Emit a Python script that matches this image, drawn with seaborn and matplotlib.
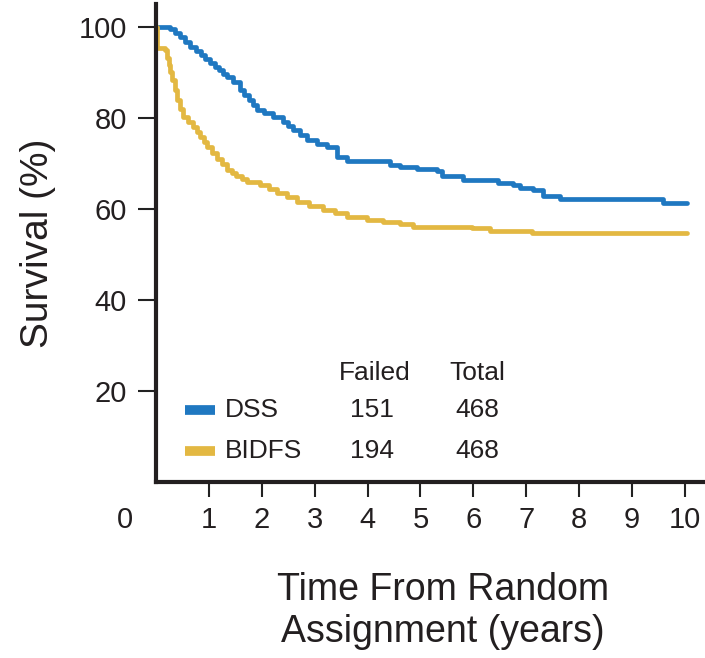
import matplotlib
matplotlib.use("Agg")
import matplotlib.pyplot as plt
import seaborn as sns
import pandas as pd

# ---- data ----
dss_t = [0, 0.26, 0.35, 0.45, 0.55, 0.64, 0.75, 0.85, 0.93, 1.02, 1.12, 1.20, 1.27, 1.34, 1.45, 1.59, 1.67,
         1.75, 1.83, 1.91, 2.05, 2.21, 2.40, 2.50, 2.59, 2.72, 2.85, 3.05, 3.23,
         3.42, 3.61, 4.29, 4.42, 4.61, 4.93, 5.31, 5.41, 5.80, 6.37, 6.47, 6.75, 6.88, 7.13, 7.32, 7.64,
         9.58, 10.04]
dss_v = [100, 99.5, 98.7, 97.8, 96.6, 95.6, 94.6, 93.8, 92.9, 92.1, 91.2, 90.5, 89.7, 89.0, 87.8, 86.2, 85.0,
         84.0, 82.9, 81.8, 81.0, 80.2, 79.0, 78.2, 77.4, 76.2, 75.2, 74.2, 73.6,
         71.4, 70.5, 70.5, 69.7, 69.2, 68.8, 68.4, 67.3, 66.4, 66.4, 65.7, 65.3, 64.6, 64.2, 62.9, 62.2,
         61.3, 61.3]
bidfs_t = [0, 0.02, 0.17, 0.21, 0.24, 0.27, 0.30, 0.35, 0.40, 0.45, 0.51, 0.60, 0.70, 0.77, 0.83, 0.90, 0.96,
           1.05, 1.15, 1.25, 1.34, 1.43, 1.52, 1.62, 1.72, 1.97, 2.13, 2.29, 2.48, 2.67,
           2.90, 3.16, 3.38, 3.61, 3.99, 4.29, 4.61, 4.86, 5.97, 6.31, 7.10, 10.04]
bidfs_v = [100, 95.4, 95.0, 93.2, 91.5, 90.0, 88.4, 86.2, 84.0, 82.0, 80.2, 79.1, 78.0, 76.9, 75.8, 74.7, 73.6,
           72.3, 71.0, 69.8, 68.6, 67.9, 67.2, 66.6, 66.0, 65.3, 64.4, 63.5, 62.5, 61.5,
           60.6, 59.8, 59.0, 58.2, 57.6, 57.1, 56.7, 56.0, 55.8, 55.2, 54.7, 54.7]
series_names = ["DSS", "BIDFS"]
failed = [151, 194]
total = [468, 468]
x_ticks = [1, 2, 3, 4, 5, 6, 7, 8, 9, 10]
y_ticks = [20, 40, 60, 80, 100]

colors = {"DSS": "#1f78c1", "BIDFS": "#e3b842"}
ink = "#231f20"

df = pd.concat([
    pd.DataFrame({"t": dss_t, "v": dss_v, "s": "DSS"}),
    pd.DataFrame({"t": bidfs_t, "v": bidfs_v, "s": "BIDFS"}),
])

sns.set_style("ticks")
plt.rcParams["font.family"] = ["Liberation Sans", "DejaVu Sans"]

fig = plt.figure(figsize=(7.05, 6.58), dpi=100)
ax = fig.add_axes([156/705, 1 - 482/658, 1 - 156/705, (482 - 4)/658])

sns.lineplot(data=df, x="t", y="v", hue="s", palette=colors, drawstyle="steps-post",
             linewidth=3.4, legend=False, ax=ax, estimator=None, sort=False)

ax.set_xlim(0, 10.38)
ax.set_ylim(0, 105)
ax.set_xticks(x_ticks)
ax.set_yticks(y_ticks)
ax.tick_params(axis="both", direction="out", width=1.5, color="#222222", labelsize=21,
               labelcolor=ink)
ax.tick_params(axis="x", length=11, pad=6)
ax.tick_params(axis="y", length=13, pad=8)
for s in ["top", "right"]:
    ax.spines[s].set_visible(False)
for s in ["left", "bottom"]:
    ax.spines[s].set_linewidth(3)
    ax.spines[s].set_color(ink)
ax.set_xlabel("")
ax.set_ylabel("Survival (%)", fontsize=28, color=ink, labelpad=16)
fig.text(125/705, 1 - 520/658, "0", fontsize=21, color=ink, ha="center", va="center")
fig.text(443/705, 1 - 611/658, "Time From Random\nAssignment (years)", fontsize=27,
         color=ink, ha="center", va="center", linespacing=1.2)

# legend table
hdr_y = 24.0
ax.text(4.14, hdr_y, "Failed", fontsize=19, color=ink, ha="center", va="center")
ax.text(6.07, hdr_y, "Total", fontsize=19, color=ink, ha="center", va="center")
rows_y = [15.8, 6.8]
for name, f, tt, yy in zip(series_names, failed, total, rows_y):
    ax.plot([0.55, 1.12], [yy, yy], color=colors[name], lw=7, solid_capstyle="butt")
    ax.text(1.3, yy, name, fontsize=19, color=ink, ha="left", va="center")
    ax.text(4.08, yy, str(f), fontsize=19, color=ink, ha="center", va="center")
    ax.text(6.07, yy, str(tt), fontsize=19, color=ink, ha="center", va="center")

fig.savefig("out.png", dpi=100)
